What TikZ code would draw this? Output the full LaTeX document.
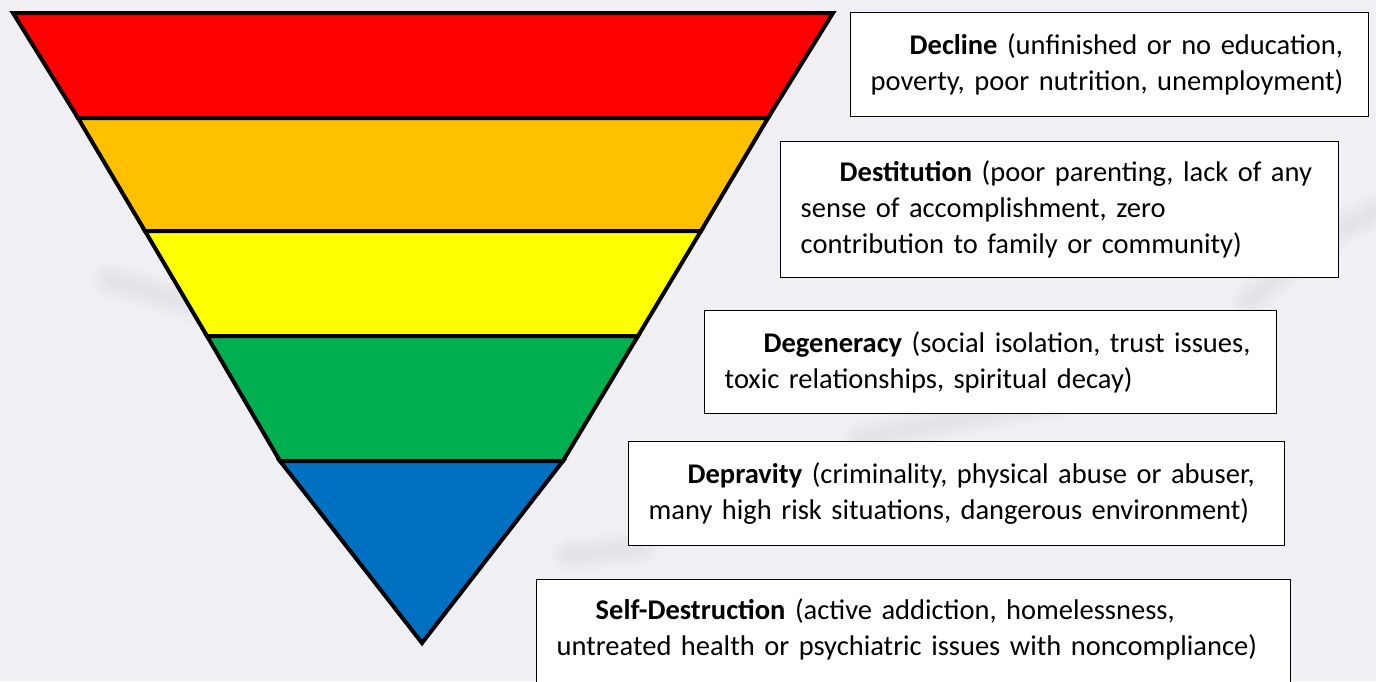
\documentclass[tikz,border=0pt]{standalone}
\usepackage{fontspec}
\setmainfont{Carlito}

\definecolor{marble}{RGB}{240,240,244}
\definecolor{veingray}{RGB}{150,150,155}
\definecolor{bandred}{RGB}{255,0,0}
\definecolor{bandorange}{RGB}{255,192,0}
\definecolor{bandyellow}{RGB}{255,255,0}
\definecolor{bandgreen}{RGB}{0,176,80}
\definecolor{bandblue}{RGB}{0,112,192}

\begin{document}
\begin{tikzpicture}[
  x=1pt, y=-1pt,
  band/.style={draw=black, line width=4pt, line join=miter},
  vein/.style={draw=veingray, line cap=round, line join=round, opacity=0.025},
  note/.style={draw=black, line width=1.4pt, fill=white, anchor=north west,
    inner xsep=20pt, inner ysep=0pt, align=left,
    font=\fontsize{28.5}{36}\selectfont},
]

% --- page ---
\fill[marble] (0,0) rectangle (1376,681);
\clip (0,0) rectangle (1376,681);

% faint veins in the marble
\foreach \w in {8,14,20,28,36}{
  \draw[vein, line width=\w pt] (110,280) -- (180,300) -- (260,330);
  \draw[vein, line width=\w pt] (860,440) -- (960,418) -- (1060,400);
  \draw[vein, line width=\w pt] (1250,300) -- (1320,240) -- (1376,210);
  \draw[vein, line width=\w pt] (570,555) -- (640,548);
}

% --- funnel corners ---
\coordinate (l0) at (13,13);   \coordinate (r0) at (833,13);
\coordinate (l1) at (78,118);  \coordinate (r1) at (768,118);
\coordinate (l2) at (145,231); \coordinate (r2) at (701,231);
\coordinate (l3) at (207,336); \coordinate (r3) at (638,336);
\coordinate (l4) at (280,461); \coordinate (r4) at (563,461);
\coordinate (ap) at (422,643);

% --- bands, top to bottom ---
\foreach \i/\j/\c in {0/1/bandred, 1/2/bandorange, 2/3/bandyellow, 3/4/bandgreen}
  \filldraw[band, fill=\c] (l\i) -- (r\i) -- (r\j) -- (l\j) -- cycle;
\filldraw[band, fill=bandblue] (l4) -- (r4) -- (ap) -- cycle;

% --- notes ---
\node[note, text width=478pt, minimum height=104pt] (decline) at (850,12)
  {\hspace*{39pt}\textbf{Decline} (unfinished or no education,\\
   poverty, poor nutrition, unemployment)};

\node[note, text width=518pt, minimum height=136pt] (destitution) at (780,141)
  {\hspace*{39pt}\textbf{Destitution} (poor parenting, lack of any\\
   sense of accomplishment, zero\\
   contribution to family or community)};

\node[note, text width=532pt, minimum height=103pt] (degeneracy) at (704,310)
  {\hspace*{39pt}\textbf{Degeneracy} (social isolation, trust issues,\\
   toxic relationships, spiritual decay)};

\node[note, text width=616pt, minimum height=104pt] (depravity) at (628,441)
  {\hspace*{39pt}\textbf{Depravity} (criminality, physical abuse or abuser,\\
   many high risk situations, dangerous environment)};

\node[note, text width=714pt, minimum height=130pt] (selfdestruction) at (536,579)
  {\hspace*{39pt}\textbf{Self-Destruction} (active addiction, homelessness,\\
   untreated health or psychiatric issues with noncompliance)\\ \mbox{}};

\end{tikzpicture}
\end{document}
